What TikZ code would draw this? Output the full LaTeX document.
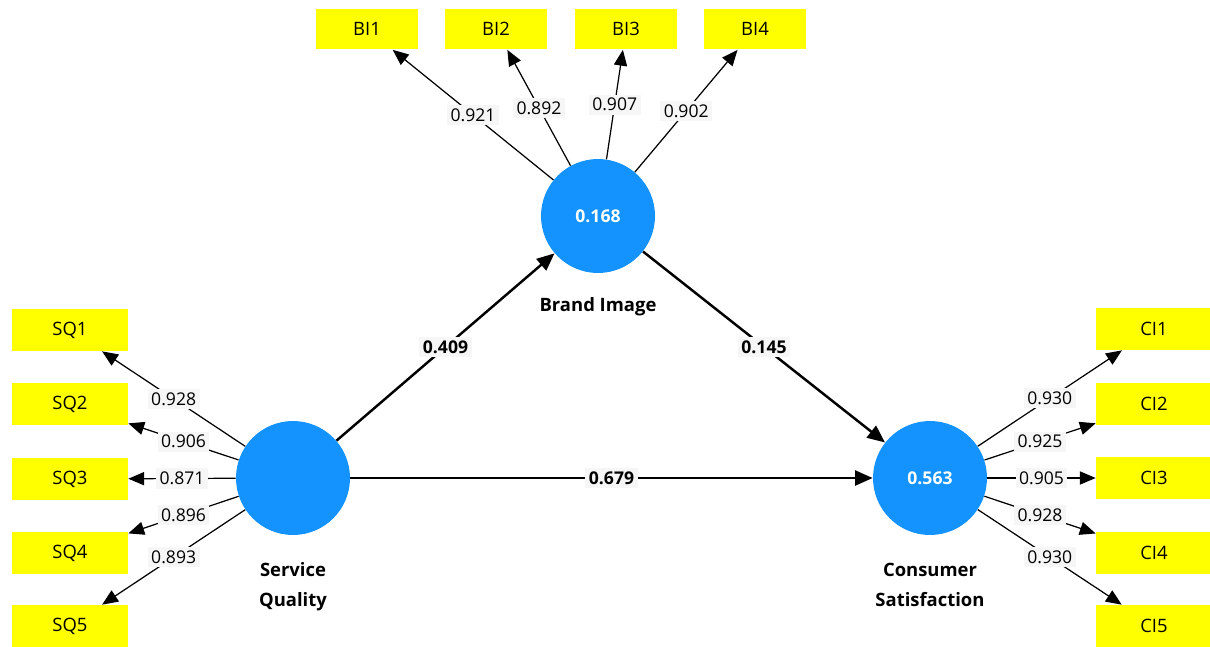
\documentclass[tikz,border=0pt]{standalone}
\usepackage{fontspec}
\setmainfont{Open Sans}
\usetikzlibrary{arrows.meta}
\definecolor{lvblue}{RGB}{20,147,255}
\definecolor{itemyellow}{RGB}{255,255,0}
\definecolor{wtgray}{RGB}{246,246,246}

\begin{document}
\begin{tikzpicture}[x=0.02cm, y=-0.02cm,
    latent/.style={circle, fill=lvblue, minimum size=2.28cm, inner sep=0pt,
      text=white, font=\fontsize{10}{12}\selectfont\bfseries},
    item/.style={fill=itemyellow, minimum width=2.32cm, minimum height=0.84cm,
      inner sep=0pt, font=\fontsize{10.5}{12}\selectfont},
    biitem/.style={item, minimum width=2.04cm, minimum height=0.82cm},
    lname/.style={align=center, font=\fontsize{10.5}{17}\selectfont\bfseries},
    loadarrow/.style={-{Triangle[length=9pt,width=7.5pt]}, line width=0.7pt},
    innerarrow/.style={-{Triangle[length=10pt,width=8.5pt]}, line width=1.4pt},
    wt/.style={fill=wtgray, inner sep=2pt, font=\fontsize{10}{12}\selectfont},
    wtb/.style={wt, font=\fontsize{10}{12}\selectfont\bfseries}]
        \useasboundingbox (0,0) rectangle (1210,646);

        % latent variables
        \node[latent] (SQ) at (293,478) {};
        \node[latent] (BI) at (598,216) {0.168};
        \node[latent] (CS) at (930,478) {0.563};
        \node[lname] (SQname) at (293,587) {Service\\Quality};
        \node[lname] (BIname) at (598,307) {Brand Image};
        \node[lname] (CSname) at (930,585) {Consumer\\Satisfaction};

        % indicators
        \foreach \i/\y in {1/330, 2/404, 3/479, 4/553, 5/626}
          \node[item] (SQ\i) at (70,\y) {SQ\i};
        \foreach \i/\y in {1/329, 2/404, 3/478, 4/553, 5/626}
          \node[item] (CI\i) at (1154,\y) {CI\i};
        \foreach \i/\x in {1/367, 2/496, 3/626, 4/755}
          \node[biitem] (BI\i) at (\x,29) {BI\i};

        % outer loadings
        \foreach \i/\v in {1/0.928, 2/0.906, 3/0.871, 4/0.896, 5/0.893}
          \draw[loadarrow] (SQ) -- node[wt] {\v} (SQ\i);
        \foreach \i/\v in {1/0.930, 2/0.925, 3/0.905, 4/0.928, 5/0.930}
          \draw[loadarrow] (CS) -- node[wt] {\v} (CI\i);
        \foreach \i/\v in {1/0.921, 2/0.892, 3/0.907, 4/0.902}
          \draw[loadarrow] (BI) -- node[wt] {\v} (BI\i);

        % path coefficients
        \draw[innerarrow] (SQ) -- node[wtb] {0.409} (BI);
        \draw[innerarrow] (BI) -- node[wtb] {0.145} (CS);
        \draw[innerarrow] (SQ) -- node[wtb] {0.679} (CS);
      \end{tikzpicture}
\end{document}
